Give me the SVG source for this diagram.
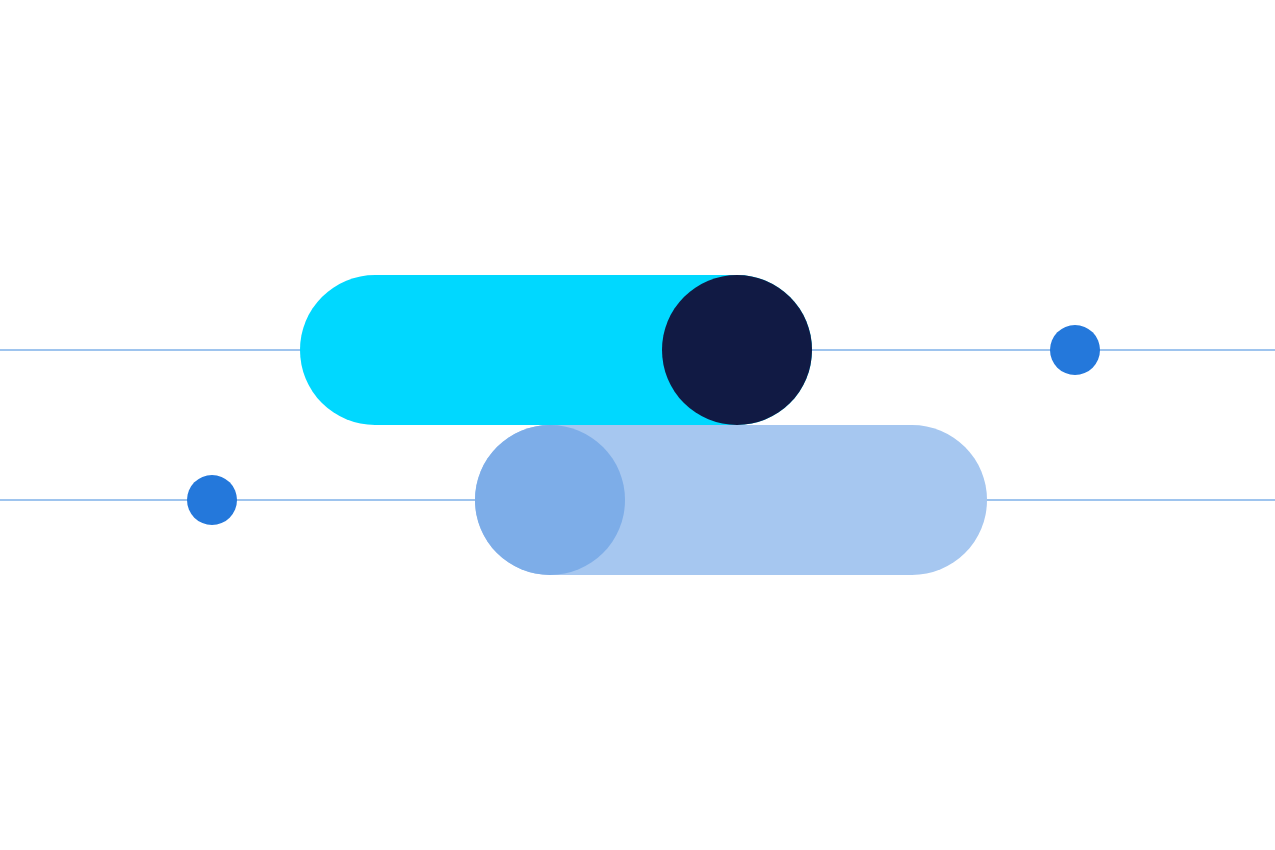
<svg xmlns="http://www.w3.org/2000/svg" width="1275" height="850" viewBox="0 0 1275 850">
<style>.ln{stroke:#7EB0E8;stroke-width:1.5}.dot{fill:#2478DB}</style>
<rect width="1275" height="850" fill="#fff"/>
<g id="connectors">
<line class="ln" x1="0" y1="350" x2="1275" y2="350"/>
<line class="ln" x1="0" y1="500" x2="1275" y2="500"/>
</g>
<g id="top-pill">
<rect x="300" y="275" width="512" height="150" rx="75" fill="#00D8FF"/>
<circle cx="737" cy="350" r="75" fill="#111A44"/>
</g>
<g id="bottom-pill">
<rect x="475" y="425" width="512" height="150" rx="75" fill="#A6C7F0"/>
<circle cx="550" cy="500" r="75" fill="#7DADE8"/>
</g>
<g id="dot-right"><circle class="dot" cx="1075" cy="350" r="25"/></g>
<g id="dot-left"><circle class="dot" cx="212" cy="500" r="25"/></g>
</svg>
